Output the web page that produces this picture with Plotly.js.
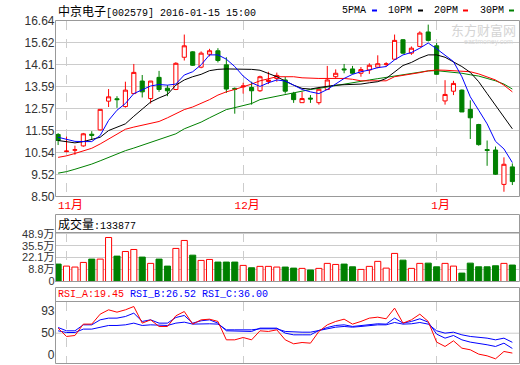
<!DOCTYPE html>
<html><head><meta charset="utf-8">
<script src="https://cdn.plot.ly/plotly-3.0.1.min.js"></script>
<style>html,body{margin:0;padding:0;background:#fff}#chart{width:520px;height:365px}</style>
</head><body><div id="chart"></div>
<script>
const dates = ['2015-10-30','2015-11-02','2015-11-03','2015-11-04','2015-11-05','2015-11-06','2015-11-09','2015-11-10','2015-11-11','2015-11-12','2015-11-13','2015-11-16','2015-11-17','2015-11-18','2015-11-19','2015-11-20','2015-11-23','2015-11-24','2015-11-25','2015-11-26','2015-11-27','2015-11-30','2015-12-01','2015-12-02','2015-12-03','2015-12-04','2015-12-07','2015-12-08','2015-12-09','2015-12-10','2015-12-11','2015-12-14','2015-12-15','2015-12-16','2015-12-17','2015-12-18','2015-12-21','2015-12-22','2015-12-23','2015-12-24','2015-12-25','2015-12-28','2015-12-29','2015-12-30','2015-12-31','2016-01-04','2016-01-05','2016-01-06','2016-01-07','2016-01-08','2016-01-11','2016-01-12','2016-01-13','2016-01-14','2016-01-15'];
const openP = [11.37,10.58,10.64,10.84,11.38,11.58,12.91,13.02,12.66,13.26,13.84,13.03,14.01,13.51,13.45,14.94,15.19,14.48,15.08,15.24,14.59,13.50,13.57,13.54,13.39,13.82,13.96,13.89,13.26,12.84,13.05,12.84,13.45,14.04,14.40,14.40,14.20,14.35,14.48,14.62,14.85,15.75,15.13,15.44,16.11,15.47,12.92,13.37,13.42,12.53,11.83,10.67,10.65,9.06,9.87];
const highP = [11.43,11.27,10.85,11.44,11.52,12.53,13.47,13.14,13.81,14.63,14.12,13.84,14.31,13.65,14.71,15.99,15.22,15.21,15.33,15.36,14.94,13.54,13.76,13.81,14.09,14.27,14.23,14.04,13.34,13.34,13.19,13.57,14.54,14.38,14.63,14.54,14.49,14.66,15.03,14.71,15.99,15.78,15.44,16.14,16.45,15.60,13.88,13.85,13.45,12.95,11.86,11.09,10.81,10.31,10.03];
const lowP = [10.88,10.54,10.43,10.80,11.16,11.55,12.64,12.60,12.61,13.26,13.08,12.80,13.34,13.14,13.42,14.79,14.54,14.43,14.98,14.70,13.29,12.33,13.26,12.75,13.34,13.70,13.81,13.26,12.83,12.84,12.83,12.75,13.42,13.96,14.20,14.15,14.04,14.17,14.43,14.51,14.82,15.10,15.05,15.41,15.67,14.12,12.75,13.19,12.41,11.16,10.85,9.92,9.50,8.72,9.03];
const closeP = [11.09,10.60,10.66,11.40,11.33,12.53,13.11,12.98,13.42,14.24,13.34,13.84,13.45,13.39,14.66,15.47,14.57,15.13,15.24,14.79,13.47,13.46,13.61,13.39,14.04,13.88,14.10,13.37,12.98,13.03,13.01,13.46,13.89,14.20,14.36,14.20,14.37,14.57,14.64,14.63,15.72,15.13,15.36,16.06,15.72,14.15,13.22,13.73,12.41,12.14,10.90,10.63,9.53,9.99,9.19];
const ma5 = [11.24,11.13,11.05,11.04,11.04,11.32,12.02,12.49,12.80,13.26,13.42,13.61,13.68,13.65,13.70,14.12,14.27,14.59,15.05,15.05,14.85,14.51,14.07,13.76,13.59,13.76,13.89,13.84,13.65,13.45,13.34,13.26,13.45,13.70,13.96,14.15,14.27,14.35,14.46,14.51,14.82,15.05,15.16,15.36,15.60,15.33,15.05,14.74,14.04,13.11,12.49,11.86,11.05,10.70,10.07];
const ma10 = [11.09,11.04,10.98,11.04,11.13,11.24,11.55,11.71,11.86,12.21,12.56,12.87,13.06,13.22,13.65,13.89,14.04,14.15,14.32,14.38,14.40,14.40,14.40,14.38,14.34,14.20,14.04,13.84,13.65,13.50,13.47,13.54,13.61,13.65,13.67,13.68,13.70,13.76,13.81,13.96,14.27,14.56,14.70,14.90,15.05,15.05,14.94,14.74,14.51,14.24,13.81,13.26,12.72,12.17,11.63];
const ma20 = [10.31,10.38,10.49,10.62,10.73,10.93,11.16,11.40,11.61,11.71,11.79,11.86,11.97,12.14,12.33,12.52,12.64,12.80,12.98,13.19,13.34,13.45,13.57,13.70,13.85,13.96,14.04,14.04,14.04,13.99,13.96,13.96,13.96,13.96,13.96,13.92,13.85,13.85,13.85,13.85,14.04,14.10,14.15,14.23,14.31,14.35,14.34,14.32,14.32,14.27,14.17,14.04,13.89,13.65,13.34];
const ma30 = [9.58,9.65,9.76,9.87,10.00,10.15,10.31,10.46,10.62,10.74,10.87,10.99,11.12,11.24,11.40,11.63,11.79,11.94,12.14,12.33,12.52,12.61,12.69,12.80,12.98,13.06,13.14,13.22,13.29,13.39,13.45,13.50,13.57,13.64,13.70,13.76,13.82,13.89,13.95,14.01,14.07,14.13,14.20,14.26,14.31,14.32,14.29,14.26,14.20,14.13,14.07,13.96,13.85,13.70,13.47];
const volume = [14.5,12.2,11.1,16.4,20.2,20.2,44.9,23.6,28.9,31.2,22.5,15.3,20.2,12.2,32.4,41.5,24.7,18.7,19.8,16.8,16.8,16.8,13.0,10.3,11.9,11.9,11.1,11.1,9.9,9.6,7.7,9.6,15.3,14.1,14.5,11.4,8.4,11.9,17.6,9.9,26.7,19.0,9.6,15.3,15.6,11.4,15.3,12.2,4.2,15.6,11.4,11.4,12.6,15.3,13.39];
const rsiA = [57.8,45.0,46.5,64.0,64.0,79.3,86.0,82.4,86.0,91.1,65.5,70.6,60.4,60.4,76.8,83.4,64.0,70.6,71.6,68.1,39.8,39.8,43.4,39.8,53.7,52.7,55.2,39.8,33.7,35.7,34.7,52.7,62.9,68.1,71.6,64.0,68.1,73.2,74.7,72.2,88.6,65.5,70.6,79.3,68.1,36.3,29.6,38.3,27.0,24.5,17.8,15.2,10.6,21.9,19.45];
const rsiB = [58.8,53.7,53.7,62.9,62.9,70.6,73.2,73.2,75.7,80.9,68.1,70.6,65.5,65.5,74.2,77.3,65.5,69.1,70.6,65.5,53.7,53.7,53.7,52.7,57.8,57.8,57.8,50.1,47.5,47.5,47.5,54.2,58.8,61.9,62.9,60.4,61.9,64.0,64.5,64.0,73.2,65.5,68.1,72.2,67.0,48.6,42.4,46.5,39.8,36.3,34.7,32.2,29.6,34.7,26.52];
const rsiC = [53.7,51.1,51.1,56.3,56.3,59.3,61.9,61.9,62.9,65.5,61.9,62.9,61.9,61.9,65.5,67.0,64.0,64.5,64.5,64.0,55.2,55.2,55.2,55.2,56.8,56.8,56.8,52.7,51.6,51.6,51.6,54.2,57.8,59.3,60.4,59.3,60.4,61.9,62.9,62.9,66.5,64.0,64.5,66.5,64.0,53.7,50.1,51.6,47.5,45.0,44.0,42.4,39.8,42.4,36.00];
const priceTicks = [16.64,15.62,14.61,13.59,12.57,11.55,10.54,9.52,8.50];
const volTickVals = [-4.9,8.8,22.1,35.5,48.9];
const volTickText = ['0','8.8万','22.1万','35.5万','48.9万'];
const rsiTickVals = [16.8,50,84.5];
const rsiTickText = ['0','50','93'];
const monthTicks = ['2015-11-02','2015-12-01','2016-01-04'];
const monthLabels = ['11月','12月','1月'];
const stockName = '中京电子';
const stockCode = '[002579] 2016-01-15 15:00';
const volLabel = '成交量:133877';
const rsiLabels = ['RSI_A:19.45','RSI_B:26.52','RSI_C:36.00'];
const maNames = ['5PMA','10PM','20PM','30PM'];

const W = 520, H = 365;
const fx = x => x / W, fy = y => 1 - y / H;
const RED = '#ff0000', GREEN = '#008000', BLUE = '#0000ff', BLACK = '#000000';
const VOL_BASE = -5.4;
const up = closeP.map((c, i) => c >= openP[i]);
const mono = 'Liberation Mono, DejaVu Sans Mono, monospace';
const cjk = 'Noto Sans CJK SC';

const traces = [
  {type:'candlestick', x:dates, open:openP, high:highP, low:lowP, close:closeP, xaxis:'x', yaxis:'y',
   increasing:{line:{color:RED, width:1}, fillcolor:'#ffffff'},
   decreasing:{line:{color:GREEN, width:1}, fillcolor:GREEN},
   whiskerwidth:0, hoverinfo:'skip', showlegend:false},
  {type:'scatter', mode:'lines', x:dates, y:ma30, line:{color:GREEN, width:1}, xaxis:'x', yaxis:'y', hoverinfo:'skip', showlegend:false},
  {type:'scatter', mode:'lines', x:dates, y:ma20, line:{color:RED, width:1}, xaxis:'x', yaxis:'y', hoverinfo:'skip', showlegend:false},
  {type:'scatter', mode:'lines', x:dates, y:ma10, line:{color:BLACK, width:1}, xaxis:'x', yaxis:'y', hoverinfo:'skip', showlegend:false},
  {type:'scatter', mode:'lines', x:dates, y:ma5, line:{color:BLUE, width:1}, xaxis:'x', yaxis:'y', hoverinfo:'skip', showlegend:false},
  {type:'bar', x:dates, y:volume.map(v => v - VOL_BASE), base:VOL_BASE, width:0.72, xaxis:'x2', yaxis:'y2',
   marker:{color:up.map(u => u ? '#ffffff' : GREEN), line:{color:up.map(u => u ? RED : GREEN), width:1}},
   hoverinfo:'skip', showlegend:false},
  {type:'scatter', mode:'lines', x:dates, y:rsiC, line:{color:BLUE, width:1}, xaxis:'x3', yaxis:'y3', hoverinfo:'skip', showlegend:false},
  {type:'scatter', mode:'lines', x:dates, y:rsiB, line:{color:BLUE, width:1}, xaxis:'x3', yaxis:'y3', hoverinfo:'skip', showlegend:false},
  {type:'scatter', mode:'lines', x:dates, y:rsiA, line:{color:RED, width:1}, xaxis:'x3', yaxis:'y3', hoverinfo:'skip', showlegend:false}
];

const xDom = [fx(55.5), fx(519.5)];
const xBase = {domain:xDom, type:'category', range:[-0.31, 54.85], tickvals:monthTicks, showgrid:true,
  gridcolor:'#cccccc', griddash:'dash', gridwidth:1, zeroline:false, showline:false, fixedrange:true};
const tickFont = {family:'Liberation Sans, Arial, sans-serif', size:12, color:'#333333'};

const frame = (y0, y1) => ({type:'rect', xref:'paper', yref:'paper', x0:fx(55.5), x1:fx(519.5), y0:fy(y1), y1:fy(y0), line:{color:'#999999', width:1}, fillcolor:'rgba(0,0,0,0)', layer:'above'});
const hline = y => ({type:'line', xref:'paper', yref:'paper', x0:fx(55.5), x1:fx(519.5), y0:fy(y), y1:fy(y), line:{color:'#999999', width:1}, layer:'above'});
const dash = (x0, color) => ({type:'rect', xref:'paper', yref:'paper', x0:fx(x0), x1:fx(x0+5), y0:fy(11.5), y1:fy(9.5), line:{width:0}, fillcolor:color});

const shapes = [
  frame(20.5, 196.5), frame(214.5, 281.5), hline(232.5), frame(287.5, 363.5), hline(301.5),
  {type:'line', xref:'paper', yref:'y3', x0:fx(55.5), x1:fx(519.5), y0:50, y1:50, line:{color:'#cccccc', width:1}, layer:'below'},
  dash(372, BLUE), dash(418, BLACK), dash(463, RED), dash(509, GREEN)
];

const ann = (x, y, text, opts) => Object.assign({xref:'paper', yref:'paper', x:fx(x), y:fy(y), text:text, showarrow:false, xanchor:'left', yanchor:'middle', font:{family:mono, size:10, color:'#000'}}, opts || {});
const annotations = [
  ann(56, 10, '<span style="font-family:Noto Sans CJK SC;font-size:12px">' + stockName + '</span>' + stockCode),
  ann(340, 10, maNames[0]), ann(386, 10, maNames[1]), ann(432, 10, maNames[2]), ann(478, 10, maNames[3]),
  ann(449, 29, '东方财富网', {font:{family:cjk, size:13, color:'#d4d4d4'}}),
  ann(462, 42, 'eastmoney.com', {font:{family:'Liberation Sans, Arial', size:7, color:'#d8d8d8'}}),
  ann(56, 223, '<span style="font-family:Noto Sans CJK SC;font-size:12px">' + volLabel.slice(0,3) + '</span>' + volLabel.slice(3)),
  ann(56, 294, rsiLabels[0] + ' <span style="fill:#0000ff">' + rsiLabels[1] + ' ' + rsiLabels[2] + '</span>', {font:{family:mono, size:10, color:RED}})
];

const layout = {
  width:W, height:H, margin:{l:0, r:0, t:0, b:0}, paper_bgcolor:'#ffffff', plot_bgcolor:'#ffffff',
  showlegend:false, hovermode:false,
  xaxis:Object.assign({}, xBase, {anchor:'y', ticktext:monthLabels.map(m => m.replace('月', '<span style="font-family:Noto Sans CJK SC;font-size:12px">月</span>')),
    showticklabels:true, tickfont:{family:mono, size:11, color:RED}, ticks:'', ticklabelshift:4, rangeslider:{visible:false}}),
  yaxis:{domain:[fy(196.5), fy(20.5)], range:[8.50, 16.64], tickvals:priceTicks, ticktext:priceTicks.map(v => v.toFixed(2)),
    tickfont:tickFont, gridcolor:'#cccccc', zeroline:false, showline:false, ticks:'', fixedrange:true},
  xaxis2:Object.assign({}, xBase, {anchor:'y2', matches:'x', showticklabels:false, ticks:''}),
  yaxis2:{domain:[fy(281.5), fy(232.5)], range:[VOL_BASE, 50.6], tickvals:volTickVals, ticktext:volTickText,
    tickfont:{family:'Liberation Sans, Noto Sans CJK SC, sans-serif', size:11, color:'#333333'}, gridcolor:'#cccccc', zeroline:false, showline:false, ticks:'', fixedrange:true},
  xaxis3:Object.assign({}, xBase, {anchor:'y3', matches:'x', showticklabels:false, ticks:''}),
  yaxis3:{domain:[fy(363.5), fy(301.5)], range:[3.4, 98.8], tickvals:rsiTickVals, ticktext:rsiTickText,
    tickfont:tickFont, showgrid:false, zeroline:false, showline:false, ticks:'', fixedrange:true},
  shapes:shapes, annotations:annotations
};

Plotly.newPlot('chart', traces, layout, {staticPlot:true, displayModeBar:false});
</script></body></html>
